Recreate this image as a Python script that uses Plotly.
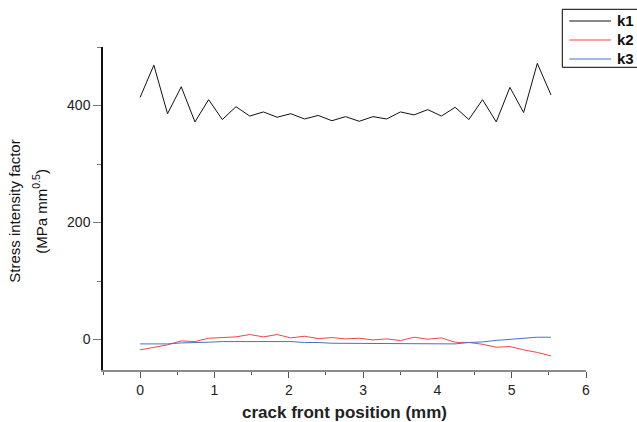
import plotly.graph_objects as go

x_mm = [round(i * 0.1843, 4) for i in range(31)]
k1 = [414, 469, 386, 432, 372, 410, 376, 398, 382, 389, 380, 386, 377, 383, 374, 381,
      373, 381, 377, 389, 384, 393, 382, 397, 376, 410, 372, 431, 388, 472, 418]
k2 = [-17.6, -13.7, -9, -2.3, -3.4, 2.3, 2.9, 4.6, 8.6, 4.6, 8.6, 2.9, 5.7, 1.7, 3.4, 1.2,
      2.3, -0.6, 1.2, -1.7, 4, 0.6, 2.9, -4.6, -5, -8, -13, -12, -17.6, -22, -27.9]
k3 = [-7.4, -7.4, -7.4, -5.7, -5.7, -4.5, -3.4, -3.4, -3.4, -3.4, -3.4, -3.4, -5, -5, -6.3, -6.3,
      -6.3, -6.3, -6.3, -6.3, -6.3, -7.4, -7.4, -7.4, -5, -4, -1.5, 0.6, 2.5, 4, 4]

series = [("k1", k1, "#111111"), ("k2", k2, "#f0454b"), ("k3", k3, "#4a72c4")]
y_title_lines = ["Stress intensity factor", "(MPa mm<sup>0.5</sup>)"]
x_title = "crack front position (mm)"

W, H = 637, 422
ML, MR, MT, MB = 103, 51, 47, 52
PW, PH = W - ML - MR, H - MT - MB


def px(x):
    return (x - ML) / PW


def py(y):
    return (H - MB - y) / PH


fig = go.Figure()
for name, vals, col in series:
    fig.add_trace(go.Scatter(x=x_mm, y=vals, mode="lines", name=name,
                             line=dict(color=col, width=1)))

font = "Liberation Sans, Arial, sans-serif"
fig.update_layout(
    width=W, height=H,
    margin=dict(l=ML, r=MR, t=MT, b=MB, autoexpand=False),
    paper_bgcolor="white", plot_bgcolor="white",
    font=dict(family=font, size=12, color="#222222"),
    showlegend=False,
    xaxis=dict(range=[-0.5, 6], showgrid=False, zeroline=False, automargin=False,
               showline=True, linecolor="#8c8c8c", linewidth=2,
               ticks="outside", ticklen=6, tickcolor="#555555", tickwidth=1,
               dtick=1, tick0=0,
               minor=dict(ticks="outside", ticklen=3, dtick=0.5, tick0=0, tickcolor="#555555"),
               tickfont=dict(size=14, color="#222222"),
               title=dict(text=x_title, standoff=14,
                          font=dict(size=17, color="#222222", weight="bold"))),
    yaxis=dict(range=[-52, 500], showgrid=False, zeroline=False, automargin=False,
               showline=True, linecolor="#111111", linewidth=1.5,
               ticks="outside", ticklen=8, tickcolor="#777777", tickwidth=1,
               dtick=200, tick0=0,
               minor=dict(ticks="outside", ticklen=4, dtick=100, tick0=0, tickcolor="#777777"),
               tickfont=dict(size=14, color="#222222")),
)
for i, txt in enumerate(y_title_lines):
    fig.add_annotation(text=txt, xref="paper", yref="paper", x=px(15 + 25 * i),
                       y=0.49, xanchor="center", yanchor="middle", textangle=-90,
                       showarrow=False, font=dict(family=font, size=15, color="#111111"))

# legend box
fig.add_shape(type="rect", xref="paper", yref="paper", x0=px(562.3), x1=px(700),
              y0=py(67.3), y1=py(9.3), line=dict(color="black", width=1),
              fillcolor="white", layer="above")
for i, (name, vals, col) in enumerate(series):
    yy = py(21 + 19 * i)
    fig.add_shape(type="line", xref="paper", yref="paper", x0=px(569.3), x1=px(611),
                  y0=yy, y1=yy, line=dict(color=col, width=1), layer="above")
    fig.add_annotation(text="<b>%s</b>" % name, xref="paper", yref="paper", x=px(615),
                       y=yy, xanchor="left", yanchor="middle", showarrow=False,
                       font=dict(family=font, size=15, color="#111111"))
fig.write_html("out.html")
